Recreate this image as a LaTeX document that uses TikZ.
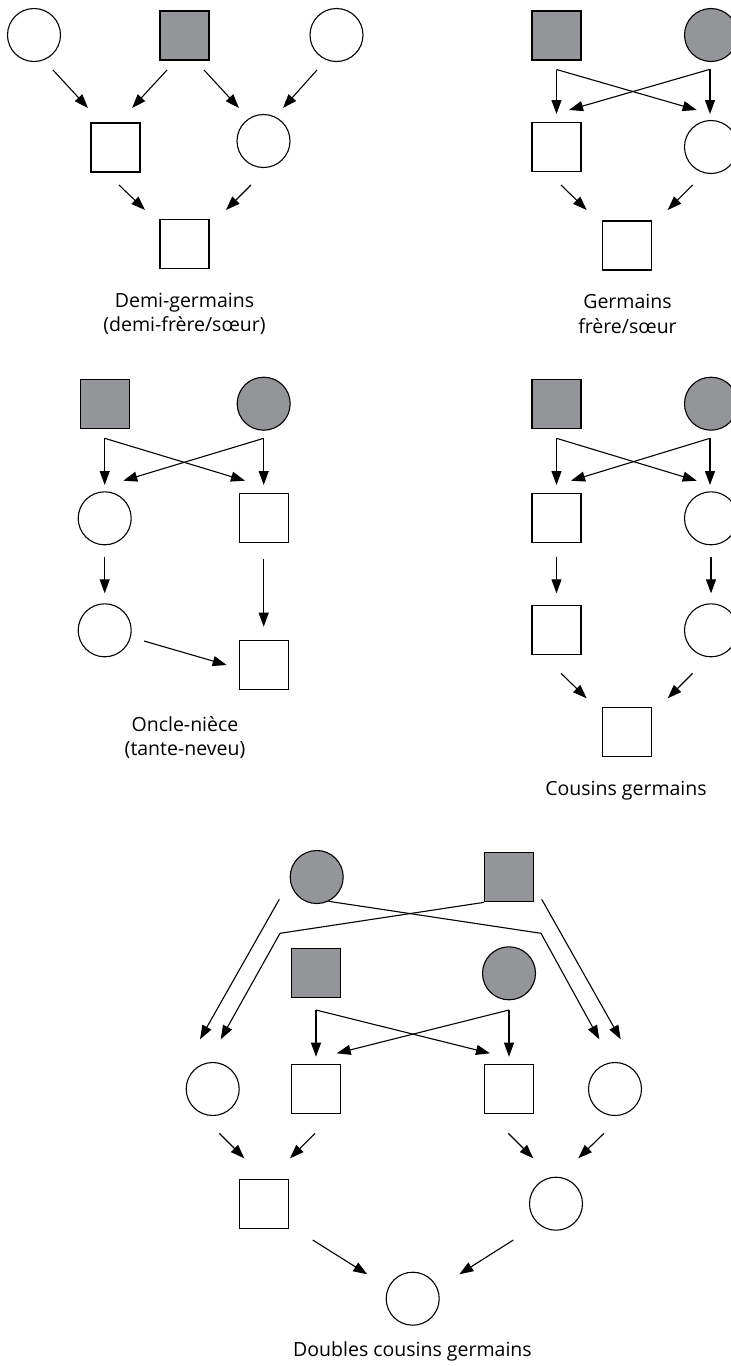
\documentclass[tikz,border=0pt]{standalone}
\usepackage{fontspec}
\setmainfont{Open Sans}
\usetikzlibrary{arrows.meta,calc}
\definecolor{porteur}{RGB}{147,149,152}
\tikzset{
  homme/.style={draw, line width=1.1pt, minimum size=49pt, inner sep=0pt},
  femme/.style={draw, circle, line width=1.1pt, minimum size=53pt, inner sep=0pt},
  ancetre/.style={fill=porteur},
  fleche/.style={line width=1.1pt, -{Triangle[length=14pt,width=10pt]}},
  legende/.style={font=\fontsize{19.5}{24.5}\selectfont, align=center, anchor=base},
}
\begin{document}
\begin{tikzpicture}[x=1pt, y=-1pt]
    \useasboundingbox (0,0) rectangle (731,1366);
    \clip (0,0) rectangle (731,1366);

    \node[femme] (dgA) at (34,35) {};
    \node[homme, ancetre] (dgP) at (184.5,35.5) {};
    \node[femme] (dgB) at (336.5,35) {};
    \node[homme] (dgS) at (115.5,147.5) {};
    \node[femme] (dgC) at (263.5,141) {};
    \node[homme] (dgK) at (184.5,244) {};
    \draw[fleche] ($(dgA)+(19,35)$) -- ($(dgS)+(-27.5,-39.5)$);
    \draw[fleche] ($(dgP)+(-17.5,34.5)$) -- ($(dgS)+(16.5,-39.5)$);
    \draw[fleche] ($(dgP)+(19.5,34.5)$) -- ($(dgC)+(-24.5,-33)$);
    \draw[fleche] ($(dgB)+(-19.5,35)$) -- ($(dgC)+(19.5,-33)$);
    \draw[fleche] ($(dgS)+(3.5,37.5)$) -- ($(dgK)+(-39.5,-34)$);
    \draw[fleche] ($(dgC)+(-12.5,44)$) -- ($(dgK)+(41.5,-34)$);
    \node[legende] (dgT) at (184.5,331.5) {Demi-germains\\(demi-frère/sœur)};

    \node[homme, ancetre] (gP) at (556.5,35.5) {};
    \node[femme, ancetre] (gM) at (711,35) {};
    \node[homme] (gS) at (556.5,147.3) {};
    \node[femme] (gC) at (711,147) {};
    \node[homme] (gK) at (627,245.5) {};
    \coordinate (gPb) at ($(gP)+(0,34)$);
    \coordinate (gMb) at ($(gM)+(-1,34.3)$);
    \draw[fleche] (gPb) -- ($(gS)+(0,-33.3)$);
    \draw[fleche] (gPb) -- ($(gC)+(-14.3,-37)$);
    \draw[fleche] (gMb) -- ($(gC)+(-1,-33)$);
    \draw[fleche] (gMb) -- ($(gS)+(12.5,-37.3)$);
    \draw[fleche] ($(gS)+(4.5,37.7)$) -- ($(gK)+(-40.3,-35.5)$);
    \draw[fleche] ($(gC)+(-18.3,38)$) -- ($(gK)+(40.7,-35.5)$);
    \node[legende] (gT) at (627.5,333) {Germains\\frère/sœur};

    \node[homme, ancetre] (onP) at (104.7,403.8) {};
    \node[femme, ancetre] (onM) at (263.7,403.7) {};
    \node[femme] (onC) at (104.7,518.3) {};
    \node[homme] (onS) at (263.7,518.3) {};
    \node[femme] (onC2) at (104.7,630.3) {};
    \node[homme] (onS2) at (263.7,665.3) {};
    \coordinate (onPb) at ($(onP)+(0,34.5)$);
    \coordinate (onMb) at ($(onM)+(0,34.6)$);
    \draw[fleche] (onPb) -- ($(onC)+(0,-33.3)$);
    \draw[fleche] (onPb) -- ($(onS)+(-18.7,-37.6)$);
    \draw[fleche] (onMb) -- ($(onS)+(0,-33.3)$);
    \draw[fleche] (onMb) -- ($(onC)+(18.6,-37.6)$);
    \draw[fleche] ($(onC)+(0,38.4)$) -- ($(onC2)+(0,-37)$);
    \draw[fleche] ($(onS)+(0,41)$) -- ($(onS2)+(0,-38.6)$);
    \draw[fleche] ($(onC2)+(39.3,10.7)$) -- ($(onS2)+(-37,-0.3)$);
    \node[legende] (onT) at (185,755.5) {Oncle-nièce\\(tante-neveu)};

    \node[homme, ancetre] (cgP) at (556.5,403.8) {};
    \node[femme, ancetre] (cgM) at (711,403.7) {};
    \node[homme] (cgS) at (556.5,518.3) {};
    \node[femme] (cgC) at (711,518.3) {};
    \node[homme] (cgS2) at (556.5,630.3) {};
    \node[femme] (cgC2) at (711,630.3) {};
    \node[homme] (cgK) at (627,732) {};
    \coordinate (cgPb) at ($(cgP)+(0,34.5)$);
    \coordinate (cgMb) at ($(cgM)+(-1,34.6)$);
    \draw[fleche] (cgPb) -- ($(cgS)+(0,-33.3)$);
    \draw[fleche] (cgPb) -- ($(cgC)+(-14.3,-37.6)$);
    \draw[fleche] (cgMb) -- ($(cgC)+(-1,-33.3)$);
    \draw[fleche] (cgMb) -- ($(cgS)+(14.5,-37.6)$);
    \draw[fleche] ($(cgS)+(0,38.4)$) -- ($(cgS2)+(0,-37)$);
    \draw[fleche] ($(cgC)+(0,38.4)$) -- ($(cgC2)+(0,-37)$);
    \draw[fleche] ($(cgS2)+(4.5,43)$) -- ($(cgK)+(-40.3,-33.7)$);
    \draw[fleche] ($(cgC2)+(-18.3,43)$) -- ($(cgK)+(40.7,-33.7)$);
    \node[legende] (cgT) at (626,795) {Cousins germains};

    \node[femme, ancetre] (dcM) at (316.7,877) {};
    \node[homme, ancetre] (dcP) at (509,877.3) {};
    \node[homme, ancetre] (dcP2) at (315.7,973) {};
    \node[femme, ancetre] (dcM2) at (509,973.3) {};
    \node[femme] (dcC1) at (212.7,1089) {};
    \node[homme] (dcS1) at (315.7,1089) {};
    \node[homme] (dcS2) at (509,1089) {};
    \node[femme] (dcC2) at (615,1089) {};
    \node[homme] (dcS3) at (263.7,1203.8) {};
    \node[femme] (dcC3) at (556,1203.7) {};
    \node[femme] (dcC4) at (412.7,1298.7) {};
    \coordinate (dcG) at (280,933.3);
    \coordinate (dcD) at (541,933.3);
    \draw[fleche] ($(dcM)+(-37.4,22.3)$) -- ($(dcC1)+(-12.7,-49.7)$);
    \draw[fleche] (dcP.south west) -- (dcG) -- ($(dcC1)+(8,-49.7)$);
    \draw[fleche] (dcM.-64) -- (dcD) -- ($(dcC2)+(-15.7,-49.7)$);
    \draw[fleche] ($(dcP)+(32.7,22)$) -- ($(dcC2)+(5.7,-49.7)$);
    \coordinate (dcP2b) at ($(dcP2)+(0.3,37)$);
    \coordinate (dcM2b) at ($(dcM2)+(0,36.7)$);
    \draw[fleche] (dcP2b) -- ($(dcS1)+(0.3,-32.3)$);
    \draw[fleche] (dcP2b) -- ($(dcS2)+(-19,-35.7)$);
    \draw[fleche] (dcM2b) -- ($(dcS2)+(0,-32.3)$);
    \draw[fleche] (dcM2b) -- ($(dcS1)+(21,-35.7)$);
    \draw[fleche] ($(dcC1)+(6.6,44.3)$) -- ($(dcS3)+(-19.4,-45.5)$);
    \draw[fleche] ($(dcS1)+(-0.7,44.3)$) -- ($(dcS3)+(26.3,-45.5)$);
    \draw[fleche] ($(dcS2)+(-0.7,44.3)$) -- ($(dcC3)+(-22.7,-45.4)$);
    \draw[fleche] ($(dcC2)+(-11,44.3)$) -- ($(dcC3)+(22.3,-45.4)$);
    \draw[fleche] ($(dcS3)+(49,36.2)$) -- ($(dcC4)+(-45.4,-24.4)$);
    \draw[fleche] ($(dcC3)+(-42.7,36.3)$) -- ($(dcC4)+(46.6,-24.4)$);
    \node[legende] (dcT) at (412.5,1356.7) {Doubles cousins germains};
\end{tikzpicture}
\end{document}
